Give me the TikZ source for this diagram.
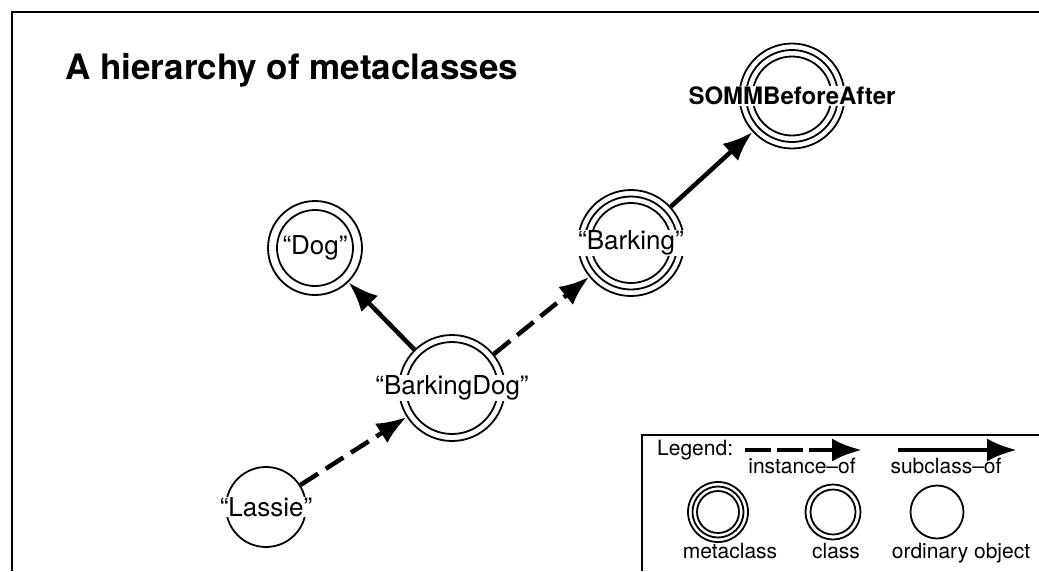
\documentclass[tikz,border=0pt]{standalone}
\usepackage{fontspec}
\setmainfont{TeX Gyre Heros}
\usetikzlibrary{arrows.meta}
\begin{document}
\begin{tikzpicture}[x=1pt,y=-1pt,
  ring/.style={circle, draw, line width=1.8pt, inner sep=0pt, minimum size=#1},
  lab/.style={fill=white, inner sep=0.8pt, font=\fontsize{26}{30}\selectfont},
  leglab/.style={inner sep=0pt, font=\fontsize{21}{25}\selectfont, anchor=base},
  link/.style={line width=4.5pt, -{Latex[length=30pt,width=23pt]}},
  inst/.style={link, dash pattern=on 21pt off 9pt},
  sub/.style={link}]
\useasboundingbox (0,0) rectangle (1039,571);
\fill[white] (0,0) rectangle (1039,571);
% outer frame
\draw[line width=2.2pt] (12,571) -- (12,12) -- (1039,12);
% title
\node[anchor=base west, inner sep=0pt, font=\bfseries\fontsize{35}{42}\selectfont] (title) at (65,79) {A hierarchy of metaclasses};

% metaclasses: three rings
\node[ring=105pt] (somm) at (792,96) {};
\node[ring=92pt] (somm-2) at (somm) {};
\node[ring=79pt] (somm-3) at (somm) {};
\node[ring=106pt] (barking) at (631,243) {};
\node[ring=93pt] (barking-2) at (barking) {};
\node[ring=80pt] (barking-3) at (barking) {};
% classes: two rings
\node[ring=94pt] (dog) at (315,248) {};
\node[ring=76pt] (dog-2) at (dog) {};
\node[ring=106pt] (bd) at (452,388) {};
\node[ring=92pt] (bd-2) at (bd) {};
% ordinary object: one ring
\node[ring=80pt] (lassie) at (266,507) {};

% relations
\draw[inst] (lassie) -- (bd);
\draw[sub] (bd) -- (dog);
\draw[inst] (bd) -- (barking);
\draw[sub] (barking) -- (somm);

% names
\node[lab, font=\bfseries\fontsize{24}{28}\selectfont] (somm-t) at (somm) {SOMMBeforeAfter};
\node[lab] (barking-t) at (barking) {“Barking”};
\node[lab] (dog-t) at (dog) {“Dog”};
\node[lab] (bd-t) at (bd) {“BarkingDog”};
\node[lab] (lassie-t) at (lassie) {“Lassie”};

% legend
\draw[line width=1.3pt] (642,571) -- (642,435) -- (1039,435);
\node[leglab, anchor=base west] (leg) at (657,455) {Legend:};
\coordinate (i0) at (745,450);
\coordinate (i1) at (862,450);
\draw[link, dash pattern=on 26pt off 6pt] (i0) -- (i1);
\coordinate (s0) at (898,450);
\coordinate (s1) at (1017,450);
\draw[sub] (s0) -- (s1);
\node[leglab] (inst-t) at (802,473) {instance–of};
\node[leglab] (sub-t) at (946,473) {subclass–of};
\node[ring=60pt] (lm) at (718,512) {};
\node[ring=51pt] (lm-2) at (lm) {};
\node[ring=42pt] (lm-3) at (lm) {};
\node[ring=55pt] (lc) at (833,512) {};
\node[ring=45pt] (lc-2) at (lc) {};
\node[ring=53pt] (lo) at (937,512) {};
\node[leglab] (lm-t) at (730,558) {metaclass};
\node[leglab] (lc-t) at (836,558) {class};
\node[leglab] (lo-t) at (961,558) {ordinary object};
\end{tikzpicture}
\end{document}
